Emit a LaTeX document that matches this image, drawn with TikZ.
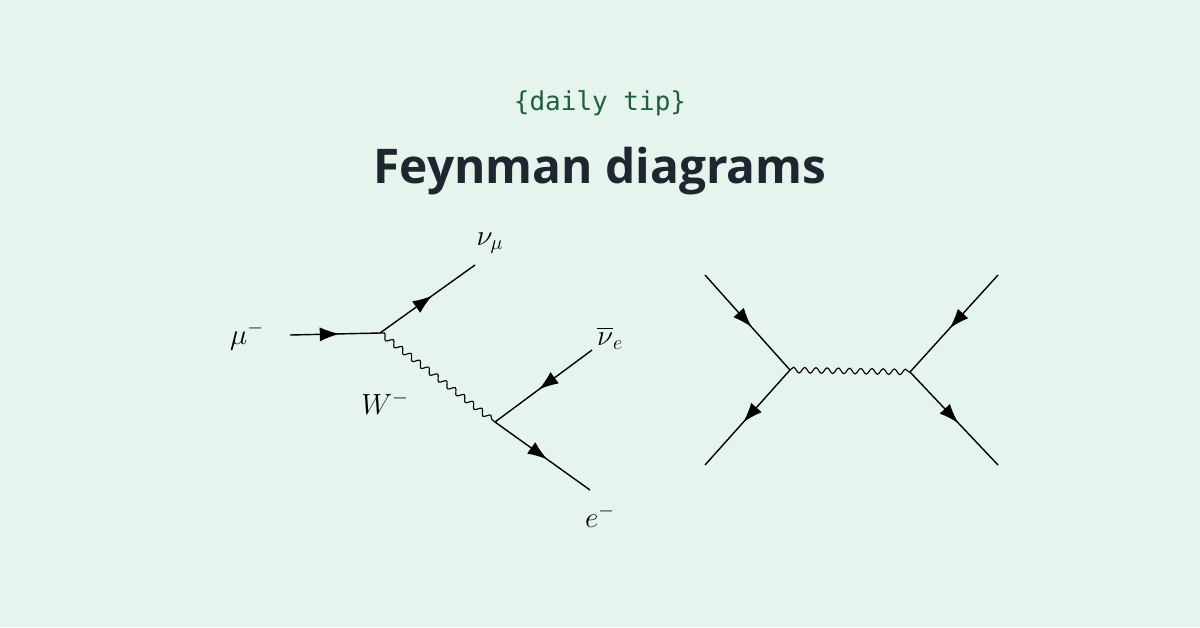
\documentclass[tikz,border=0pt]{standalone}
\usepackage{fontspec}
\setsansfont{Open Sans}
\setmonofont{DejaVu Sans Mono}
\usepackage{amsmath}
\usetikzlibrary{arrows.meta, decorations.pathmorphing, decorations.markings}
\definecolor{bgmint}{RGB}{230,244,238}
\definecolor{tipgreen}{RGB}{35,95,60}
\definecolor{titledark}{RGB}{30,38,48}
\tikzset{
  fermion/.style={line width=1pt, postaction={decorate},
    decoration={markings, mark=at position 0.55 with {\arrow{Latex[length=14pt,width=10pt]}}}},
  boson/.style={line width=0.8pt, decorate,
    decoration={snake, amplitude=0.07cm, segment length=0.28cm}},
  lbl/.style={font=\fontsize{20}{24}\selectfont}
}
\begin{document}
\begin{tikzpicture}[x=0.025cm,y=-0.025cm]
        \fill[bgmint] (0,0) rectangle (1200,627);
        \node[font=\ttfamily\fontsize{18.5}{22}\selectfont, text=tipgreen] (tip) at (600,103) {\{daily tip\}};
        \node[font=\sffamily\bfseries\fontsize{34}{40}\selectfont, text=titledark] (title) at (600,171) {Feynman diagrams};
        % muon decay
        \begin{scope}
            \coordinate (mu) at (290,335);
            \coordinate (v1) at (380,333);
            \coordinate (num) at (475,265);
            \coordinate (v2) at (495,422);
            \coordinate (nue) at (592,350);
            \coordinate (el) at (590,490);
            \draw[fermion] (mu)--(v1);
            \draw[fermion] (v1)--(num);
            \draw[boson] (v1)--(v2);
            \draw[fermion] (nue)--(v2);
            \draw[fermion] (v2)--(el);
            \node[lbl] (lmu) at (247,336) {$\mu^-$};
            \node[lbl] (lnum) at (490,243) {$\nu_\mu$};
            \node[lbl] (lw) at (385,403) {$W^-$};
            \node[lbl] (lnue) at (610,338) {$\overline{\nu}_e$};
            \node[lbl] (lel) at (600,516) {$e^-$};
        \end{scope}
        % scattering
        \begin{scope}
            \coordinate (a) at (705,275);
            \coordinate (b) at (705,465);
            \coordinate (c) at (998,275);
            \coordinate (d) at (998,465);
            \coordinate (l) at (790,370);
            \coordinate (r) at (910,372);
            \draw[fermion] (a)--(l);
            \draw[fermion] (l)--(b);
            \draw[fermion] (c)--(r);
            \draw[fermion] (r)--(d);
            \draw[boson] (l)--(r);
        \end{scope}
    \end{tikzpicture}
\end{document}
